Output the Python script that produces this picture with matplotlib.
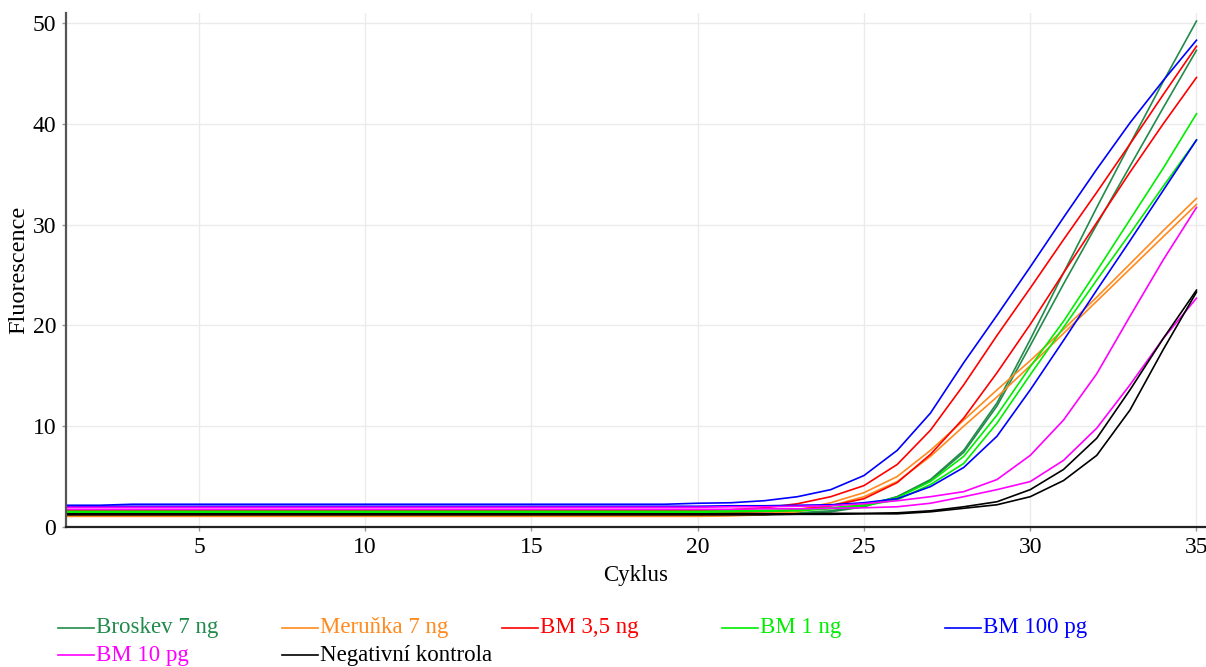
import matplotlib
matplotlib.use("Agg")
import matplotlib.pyplot as plt
from matplotlib.lines import Line2D

plt.rcParams["font.family"] = ["Liberation Serif", "DejaVu Serif"]

# data: cycle 1..35, two replicates per sample
cykly = list(range(1, 36))

broskev_1 = [1.25, 1.25, 1.25, 1.25, 1.25, 1.25, 1.25, 1.25, 1.25, 1.25,
             1.25, 1.25, 1.25, 1.25, 1.25, 1.25, 1.25, 1.25, 1.25, 1.25,
             1.25, 1.25, 1.35, 1.5, 2.0, 3.0, 4.7, 7.6, 12.3, 18.6,
             25.2, 31.7, 38.0, 44.2, 50.2]
broskev_2 = [1.3, 1.3, 1.3, 1.3, 1.3, 1.3, 1.3, 1.3, 1.3, 1.3,
             1.3, 1.3, 1.3, 1.3, 1.3, 1.3, 1.3, 1.3, 1.3, 1.3,
             1.3, 1.3, 1.4, 1.6, 2.1, 3.0, 4.6, 7.4, 12.0, 18.0,
             24.1, 30.0, 35.8, 41.6, 47.3]
meruna_1 = [1.1, 1.1, 1.1, 1.1, 1.1, 1.1, 1.1, 1.1, 1.1, 1.1,
            1.1, 1.1, 1.1, 1.1, 1.1, 1.1, 1.1, 1.1, 1.1, 1.1,
            1.15, 1.3, 1.7, 2.4, 3.4, 5.0, 7.6, 10.6, 13.6, 16.5,
            19.6, 22.8, 26.1, 29.4, 32.6]
meruna_2 = [1.05, 1.05, 1.05, 1.05, 1.05, 1.05, 1.05, 1.05, 1.05, 1.05,
            1.05, 1.05, 1.05, 1.05, 1.05, 1.05, 1.05, 1.05, 1.05, 1.05,
            1.1, 1.2, 1.5, 2.1, 3.0, 4.5, 7.0, 10.0, 12.9, 16.0,
            19.2, 22.4, 25.6, 28.8, 32.0]
bm35_1 = [1.6, 1.6, 1.6, 1.6, 1.6, 1.6, 1.6, 1.6, 1.6, 1.6,
          1.6, 1.6, 1.6, 1.6, 1.6, 1.6, 1.6, 1.6, 1.6, 1.6,
          1.7, 1.9, 2.3, 3.0, 4.1, 6.2, 9.6, 14.1, 19.0, 23.7,
          28.5, 33.2, 38.0, 42.9, 47.7]
bm35_2 = [1.4, 1.4, 1.4, 1.4, 1.4, 1.4, 1.4, 1.4, 1.4, 1.4,
          1.4, 1.4, 1.4, 1.4, 1.4, 1.4, 1.4, 1.4, 1.4, 1.4,
          1.45, 1.5, 1.7, 2.1, 2.8, 4.4, 7.2, 10.8, 15.3, 20.1,
          25.2, 30.2, 35.2, 40.0, 44.6]
bm1_1 = [1.55, 1.55, 1.55, 1.55, 1.55, 1.55, 1.55, 1.55, 1.55, 1.55,
         1.55, 1.55, 1.55, 1.55, 1.55, 1.55, 1.55, 1.55, 1.55, 1.55,
         1.6, 1.65, 1.7, 1.9, 2.2, 2.9, 4.5, 7.0, 11.1, 15.9,
         20.4, 25.4, 30.5, 35.6, 41.0]
bm1_2 = [1.45, 1.45, 1.45, 1.45, 1.45, 1.45, 1.45, 1.45, 1.45, 1.45,
         1.45, 1.45, 1.45, 1.45, 1.45, 1.45, 1.45, 1.45, 1.45, 1.45,
         1.5, 1.55, 1.6, 1.8, 2.1, 2.7, 4.2, 6.3, 10.3, 15.1,
         19.8, 24.5, 29.1, 33.8, 38.4]
bm100_1 = [2.15, 2.15, 2.25, 2.25, 2.25, 2.25, 2.25, 2.25, 2.25, 2.25,
           2.25, 2.25, 2.25, 2.25, 2.25, 2.25, 2.25, 2.25, 2.25, 2.35,
           2.4, 2.6, 3.0, 3.7, 5.1, 7.6, 11.3, 16.3, 21.0, 25.8,
           30.7, 35.5, 40.1, 44.3, 48.3]
bm100_2 = [2.05, 2.05, 2.05, 2.05, 2.05, 2.05, 2.05, 2.05, 2.05, 2.05,
           2.05, 2.05, 2.05, 2.05, 2.05, 2.05, 2.05, 2.05, 2.05, 2.05,
           2.1, 2.1, 2.15, 2.2, 2.4, 2.8, 4.0, 5.9, 9.0, 13.6,
           18.5, 23.5, 28.4, 33.4, 38.4]
bm10_1 = [1.95, 1.95, 1.95, 1.95, 1.95, 1.95, 1.95, 1.95, 1.95, 1.95,
          1.95, 1.95, 1.95, 1.95, 1.95, 1.95, 1.95, 1.95, 1.95, 1.95,
          2.0, 2.0, 2.05, 2.1, 2.3, 2.6, 3.0, 3.5, 4.7, 7.1,
          10.6, 15.2, 20.9, 26.5, 31.7]
bm10_2 = [1.75, 1.75, 1.75, 1.75, 1.75, 1.75, 1.75, 1.75, 1.75, 1.75,
          1.75, 1.75, 1.75, 1.75, 1.75, 1.75, 1.75, 1.75, 1.75, 1.75,
          1.75, 1.8, 1.8, 1.85, 1.9, 2.0, 2.35, 3.0, 3.7, 4.5,
          6.6, 9.8, 14.1, 18.7, 22.7]
neg_1 = [1.3, 1.3, 1.3, 1.3, 1.3, 1.3, 1.3, 1.3, 1.3, 1.3,
         1.3, 1.3, 1.3, 1.3, 1.3, 1.3, 1.3, 1.3, 1.3, 1.3,
         1.3, 1.3, 1.3, 1.35, 1.35, 1.4, 1.6, 2.0, 2.5, 3.7,
         5.7, 8.8, 13.6, 18.7, 23.5]
neg_2 = [1.2, 1.2, 1.2, 1.2, 1.2, 1.2, 1.2, 1.2, 1.2, 1.2,
         1.2, 1.2, 1.2, 1.2, 1.2, 1.2, 1.2, 1.2, 1.2, 1.2,
         1.2, 1.2, 1.25, 1.25, 1.3, 1.3, 1.5, 1.85, 2.2, 3.0,
         4.6, 7.1, 11.6, 17.6, 23.3]

nazvy = ["Broskev 7 ng", "Meruňka 7 ng", "BM 3,5 ng", "BM 1 ng",
         "BM 100 pg", "BM 10 pg", "Negativní kontrola"]
barvy = ["#228B4C", "#FF8A1E", "#FF0000", "#00EE00",
         "#0000FF", "#FF00FF", "#000000"]
krivky = [(broskev_1, broskev_2), (meruna_1, meruna_2), (bm35_1, bm35_2),
          (bm1_1, bm1_2), (bm100_1, bm100_2), (bm10_1, bm10_2),
          (neg_1, neg_2)]

fig = plt.figure(figsize=(12.06, 6.67), dpi=100)
ax = fig.add_axes([0.0547, 0.21, 0.9443, 0.7705])

for (r1, r2), c in zip(krivky, barvy):
    ax.plot(cykly, r1, color=c, lw=1.2)
    ax.plot(cykly, r2, color=c, lw=1.2)

ax.set_xlim(1, 35.25)
ax.set_ylim(0, 51)
ax.set_xticks([5, 10, 15, 20, 25, 30, 35])
ax.set_yticks([0, 10, 20, 30, 40, 50])
ax.grid(True, color="#ebebeb", lw=1)
ax.set_axisbelow(True)
for s in ["top", "right"]:
    ax.spines[s].set_visible(False)
ax.spines["left"].set_color("#555555")
ax.spines["left"].set_linewidth(1.6)
ax.spines["bottom"].set_color("#222222")
ax.spines["bottom"].set_linewidth(1.6)
ax.tick_params(axis="both", labelsize=17, length=3, width=1, color="#999999", pad=4)
ax.set_xlabel("Cyklus", fontsize=16.5, labelpad=5)
ax.set_ylabel("Fluorescence", fontsize=17.5)
ax.yaxis.set_label_coords(-0.032, 0.5)

# legend below the plot, fixed column grid
xs = [58, 282, 502, 722, 945]
ys = [628, 655]
W, H = 1206, 667
for i, (n, c) in enumerate(zip(nazvy, barvy)):
    x0 = xs[i % 5]
    y0 = ys[i // 5]
    fig.add_artist(Line2D([x0 / W, (x0 + 36) / W], [1 - y0 / H, 1 - y0 / H],
                          color=c, lw=1.2))
    fig.text((x0 + 38) / W, 1 - y0 / H, n, color=c, fontsize=16.5, va="center", ha="left")

fig.savefig("out.png", dpi=100)
